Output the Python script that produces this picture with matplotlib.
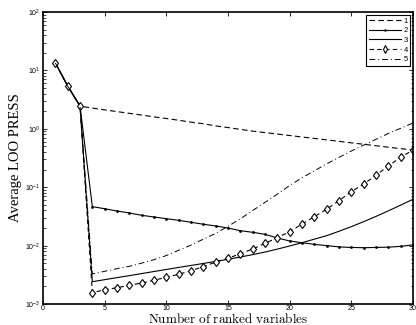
import numpy as np
import matplotlib
matplotlib.use('Agg')
import matplotlib.pyplot as plt
from matplotlib.ticker import LogLocator, NullFormatter, MultipleLocator

plt.rcParams['font.family'] = ['Liberation Sans', 'DejaVu Sans']
plt.rcParams['mathtext.fontset'] = 'cm'

n_vars = list(range(1, 31))
start = [13.4, 5.4, 2.45]

press1 = start + [2.26, 2.11, 1.97, 1.84, 1.72, 1.60, 1.50, 1.40, 1.30, 1.22,
                  1.12, 1.05, 0.977, 0.912, 0.861, 0.813, 0.767, 0.724, 0.684,
                  0.646, 0.610, 0.575, 0.543, 0.513, 0.484, 0.457, 0.434]
press2 = start + [0.0465, 0.0428, 0.0391, 0.0362, 0.0330, 0.0309, 0.0289,
                  0.0271, 0.0251, 0.0232, 0.0217, 0.0200, 0.0180, 0.0169,
                  0.0156, 0.0135, 0.0120, 0.0112, 0.0105, 0.0100, 0.0095,
                  0.0093, 0.0092, 0.0093, 0.0094, 0.0097, 0.0103]
press3 = start + [0.00241, 0.00261, 0.00283, 0.00306, 0.00332, 0.00360,
                  0.00390, 0.00423, 0.00457, 0.00495, 0.00537, 0.00582,
                  0.00638, 0.00700, 0.00776, 0.00871, 0.00986, 0.0112,
                  0.0129, 0.0148, 0.0176, 0.0211, 0.0257, 0.0316, 0.0394,
                  0.0493, 0.0621]
press4 = start + [0.00156, 0.00176, 0.00190, 0.00209, 0.00229, 0.00255,
                  0.00287, 0.00323, 0.00372, 0.00435, 0.00524, 0.00606,
                  0.00726, 0.00875, 0.0109, 0.0137, 0.0173, 0.0234, 0.0313,
                  0.0418, 0.0590, 0.0837, 0.1135, 0.160, 0.231, 0.325, 0.433]
press5 = start + [0.00327, 0.00363, 0.00403, 0.00442, 0.00501, 0.00575,
                  0.00676, 0.00832, 0.0102, 0.0129, 0.0162, 0.0214, 0.0288,
                  0.0398, 0.0550, 0.0759, 0.107, 0.145, 0.191, 0.251, 0.324,
                  0.417, 0.525, 0.661, 0.832, 1.02, 1.26]
labels = ['1', '2', '3', '4', '5']

fig = plt.figure(figsize=(4.16, 3.25), dpi=100)
ax = fig.add_axes([0.1034, 0.0646, 0.8894, 0.8985])

ax.plot(n_vars, press1, 'k--', lw=0.8, dashes=(5, 3), label=labels[0])
ax.plot(n_vars, press2, 'k-', lw=0.8, marker='.', ms=2, label=labels[1])
ax.plot(n_vars, press3, 'k-', lw=0.8, label=labels[2])
ax.plot(n_vars, press4, 'k--', lw=0.8, dashes=(4, 3), marker='d', ms=4.5,
        mfc='white', mec='k', mew=0.8, label=labels[3])
ax.plot(n_vars, press5, 'k-.', lw=0.7, dashes=(6, 3, 1, 3), label=labels[4])

ax.set_yscale('log')
ax.set_xlim(0, 30)
ax.set_ylim(1e-3, 1e2)
ax.xaxis.set_major_locator(MultipleLocator(5))
ax.yaxis.set_major_locator(LogLocator(base=10, numticks=10))
ax.yaxis.set_minor_locator(LogLocator(base=10, subs=np.arange(2, 10), numticks=10))
ax.yaxis.set_minor_formatter(NullFormatter())
ax.tick_params(which='both', direction='in', top=True, right=True,
               labelsize=5, pad=2)
ax.tick_params(axis='x', pad=1)
ax.tick_params(which='major', length=3, width=0.6)
ax.tick_params(which='minor', length=1.8, width=0.5)
for s in ax.spines.values():
    s.set_linewidth(1.2)

ax.set_xlabel(r'$\mathrm{Number\ of\ ranked\ variables}$', fontsize=9.5, labelpad=0)
ax.set_ylabel('Average LOO PRESS', family='Liberation Serif', fontsize=10.5, labelpad=2)

leg = ax.legend(loc='upper right', fontsize=5.5, handlelength=4.2,
                handletextpad=0.3, borderpad=0.35, labelspacing=0.3,
                markerscale=0.8, fancybox=False, framealpha=1,
                borderaxespad=0.35)
leg.get_frame().set_edgecolor('k')
leg.get_frame().set_linewidth(0.8)

fig.savefig('out.png', dpi=100)
